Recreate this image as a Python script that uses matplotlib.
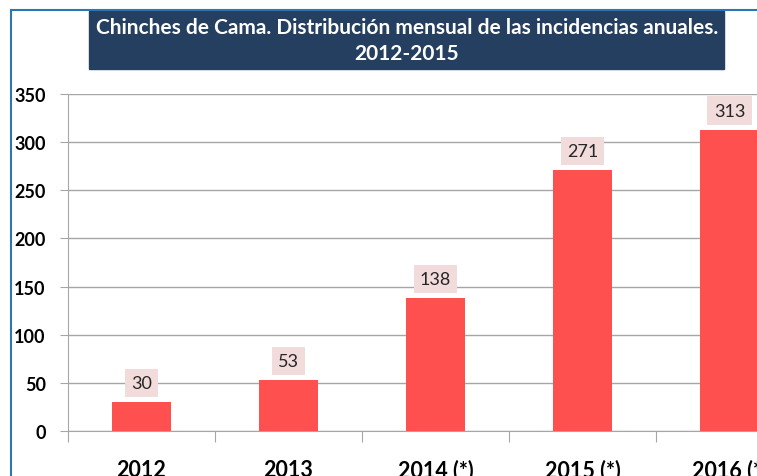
import matplotlib.pyplot as plt
from matplotlib.lines import Line2D
from matplotlib.patches import Rectangle

years = ["2012", "2013", "2014 (*)", "2015 (*)", "2016 (*)"]
cases = [30, 53, 138, 271, 313]
yticks = [0, 50, 100, 150, 200, 250, 300, 350]

plt.rcParams["font.family"] = ["Lato", "DejaVu Sans"]

W, H = 757, 477
fig = plt.figure(figsize=(W / 100, H / 100), dpi=100)

# plot area runs off the right edge; each category is 147 px wide
ax = fig.add_axes([68 / W, 45 / H, 735 / W, 337 / H])
x = list(range(len(years)))
ax.bar(x, cases, width=0.4, color="#ff5050", zorder=3)
ax.set_xlim(-0.5, len(years) - 0.5)
ax.set_ylim(0, 350)

ax.set_yticks(yticks)
ax.set_yticklabels([str(v) for v in yticks], fontsize=13, fontweight="bold")
ax.yaxis.grid(True, color="#a6a6a6", linewidth=1, zorder=0)
ax.tick_params(axis="y", length=6, color="#a6a6a6", pad=10)

# category labels sit between boundary ticks
ax.set_xticks([i - 0.5 for i in range(len(years) + 1)])
ax.set_xticklabels([])
ax.set_xticks(x, minor=True)
ax.set_xticklabels(years, minor=True, fontsize=15.5, fontweight="bold")
ax.tick_params(axis="x", which="major", length=8, color="#a6a6a6")
ax.tick_params(axis="x", which="minor", length=0, pad=20)

for side in ["top", "right"]:
    ax.spines[side].set_visible(False)
for side in ["left", "bottom"]:
    ax.spines[side].set_color("#a6a6a6")

for xi, v in zip(x, cases):
    ax.annotate(str(v), (xi, v), xytext=(0, 8), textcoords="offset points",
                ha="center", va="bottom", fontsize=13, color="#262626",
                bbox=dict(boxstyle="square,pad=0.35", fc="#f2dcdb", ec="none"),
                annotation_clip=False)

# title block
fig.patches.append(Rectangle((89 / W, 1 - 70 / H), 635 / W, 58 / H,
                             transform=fig.transFigure, color="#243f60"))
fig.text(407 / W, 1 - 41 / H,
         "Chinches de Cama. Distribución mensual de las incidencias anuales.\n2012-2015",
         ha="center", va="center", color="white", fontsize=15,
         fontweight="bold", linespacing=1.4)

# blue frame on the top and left
fig.lines.append(Line2D([11 / W, 11 / W], [0, 1 - 11 / H], transform=fig.transFigure,
                        color="#2e75b6", linewidth=1.5))
fig.lines.append(Line2D([11 / W, 1], [1 - 11 / H, 1 - 11 / H], transform=fig.transFigure,
                        color="#2e75b6", linewidth=1.5))

fig.savefig("out.png", dpi=100)
